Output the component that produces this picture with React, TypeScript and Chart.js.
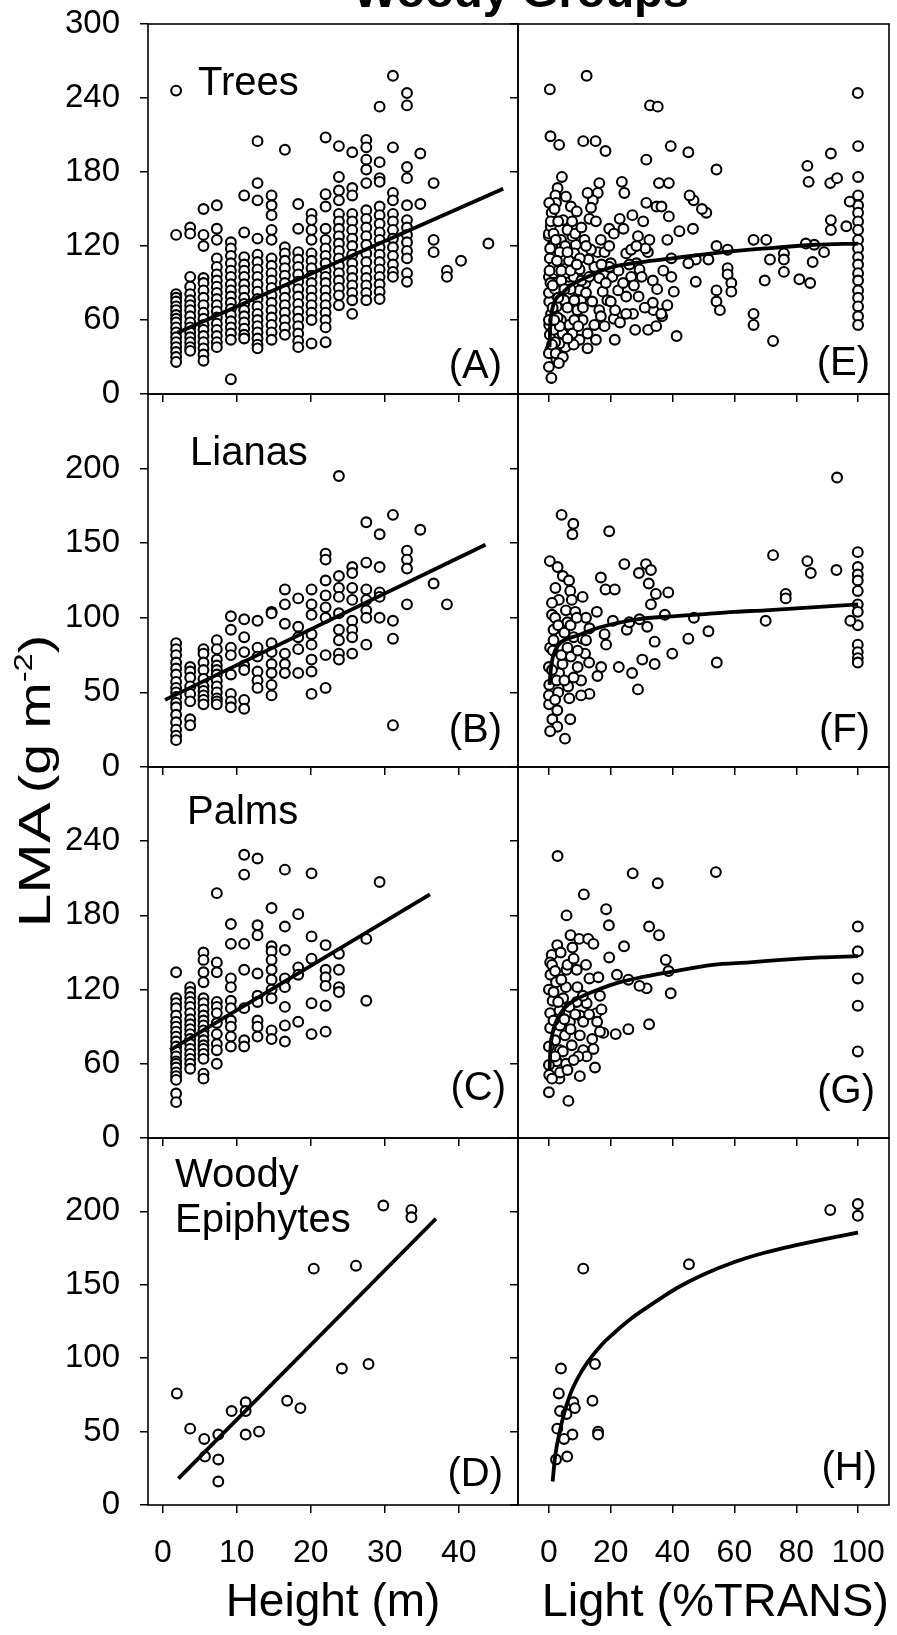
import React, { useEffect, useRef } from 'react';
import { Chart, registerables } from 'chart.js';

Chart.register(...registerables);

type Pt = [number, number];
type Col = [number, number[]];

const FONT = "'Liberation Sans', Arial, Helvetica, sans-serif";

// ---------- tick labels ----------
const heightTicks = [0, 10, 20, 30, 40];
const lightTicks = [0, 20, 40, 60, 80, 100];
const lmaTicks300 = [0, 60, 120, 180, 240, 300];
const lmaTicks240 = [0, 60, 120, 180, 240];
const lmaTicks200 = [0, 50, 100, 150, 200];

// ---------- texts ----------
const chartTitle = 'Woody Groups';
const yLabelMain = 'LMA';
const yLabelUnit = '(g m';
const yLabelExp = '-2';
const groupNames = ['Trees', 'Lianas', 'Palms', 'Woody\nEpiphytes'];
const heightTags = ['(A)', '(B)', '(C)', '(D)'];
const lightTags = ['(E)', '(F)', '(G)', '(H)'];
const heightTitle = 'Height (m)';
const lightTitle = 'Light (%TRANS)';

// ---------- LMA vs height (columns: height, LMA values) ----------
const treesByHeight: Col[] = [
  [1.8, [246, 129, 81, 78, 75, 71, 68, 64, 61, 58, 54, 50, 46, 42, 38, 34, 30, 26]],
  [3.7, [135, 130, 95, 87, 81, 76, 72, 68, 63, 58, 54, 50, 46, 42, 38, 35]],
  [5.5, [150, 129, 120, 94, 90, 84, 78, 72, 66, 61, 56, 52, 47, 42, 37, 32, 27]],
  [7.3, [153, 134, 125, 110, 103, 97, 92, 87, 82, 77, 72, 67, 62, 57, 52, 47, 42, 38]],
  [9.2, [123, 118, 112, 106, 100, 95, 89, 84, 79, 74, 69, 64, 59, 54, 49, 44, 12]],
  [11.0, [161, 131, 111, 105, 100, 95, 89, 84, 78, 73, 68, 63, 58, 53, 48, 45]],
  [12.8, [205, 171, 157, 126, 113, 107, 101, 95, 89, 83, 77, 71, 65, 60, 55, 50, 45, 40, 37]],
  [14.7, [161, 153, 145, 133, 125, 110, 104, 98, 92, 86, 80, 74, 68, 62, 56, 50, 44]],
  [16.5, [198, 119, 114, 108, 102, 96, 90, 84, 78, 72, 66, 60, 54, 48]],
  [18.3, [154, 134, 115, 109, 103, 97, 91, 85, 79, 73, 67, 61, 55, 49, 43, 38]],
  [20.1, [146, 141, 133, 125, 114, 108, 102, 96, 90, 84, 78, 72, 66, 60, 41]],
  [22.0, [208, 162, 152, 134, 125, 118, 112, 106, 100, 95, 90, 84, 78, 72, 66, 60, 54, 42]],
  [23.8, [201, 176, 165, 157, 146, 140, 134, 128, 122, 116, 110, 104, 98, 92, 86, 80, 72]],
  [25.6, [196, 167, 161, 146, 140, 133, 126, 120, 113, 106, 100, 94, 88, 82, 76, 65]],
  [27.5, [206, 200, 190, 182, 171, 149, 142, 135, 128, 121, 114, 107, 100, 94, 88, 82, 76]],
  [29.3, [233, 188, 175, 172, 152, 145, 138, 131, 125, 119, 113, 107, 101, 95, 89, 83, 77]],
  [31.1, [258, 200, 163, 157, 146, 140, 133, 126, 119, 112, 105, 99, 95]],
  [33.0, [244, 234, 184, 175, 153, 141, 135, 129, 123, 116, 110, 98, 91]],
  [34.8, [195, 154]],
  [36.6, [171, 125, 115]],
  [38.4, [100, 95]],
  [40.3, [108]],
  [44.0, [122]],
];

const lianasByHeight: Col[] = [
  [1.8, [83, 79, 75, 70, 66, 62, 57, 53, 50, 47, 43, 40, 35, 30, 25, 21, 18]],
  [3.7, [67, 64, 60, 54, 49, 44, 32, 28]],
  [5.5, [79, 76, 70, 65, 59, 54, 51, 48, 45, 42]],
  [7.3, [85, 79, 72, 68, 65, 62, 58, 54, 50, 46, 44, 42]],
  [9.2, [101, 92, 80, 75, 62, 49, 44, 40]],
  [11.0, [99, 87, 77, 68, 65, 45, 39]],
  [12.8, [98, 80, 74, 64, 58, 53]],
  [14.7, [104, 103, 83, 77, 69, 63, 55, 48]],
  [16.5, [119, 109, 96, 76, 69, 63]],
  [18.3, [113, 94, 87, 79, 63]],
  [20.1, [119, 109, 102, 89, 82, 72, 64, 49]],
  [22.0, [143, 139, 125, 115, 107, 100, 75, 53]],
  [23.8, [195, 128, 120, 114, 103, 92, 85, 76, 72]],
  [25.6, [134, 130, 120, 112, 98, 92, 87, 76]],
  [27.5, [164, 137, 119, 112, 105, 100, 82]],
  [29.3, [156, 134, 117, 114, 100]],
  [31.1, [169, 98, 86, 28]],
  [33.0, [145, 139, 133, 109]],
  [34.8, [159]],
  [36.6, [123]],
  [38.4, [109]],
];

const palmsByHeight: Col[] = [
  [1.8, [134, 113, 109, 105, 99, 94, 90, 86, 82, 78, 74, 70, 66, 62, 60, 57, 53, 50, 47, 36, 29]],
  [3.7, [122, 118, 114, 110, 106, 101, 96, 92, 88, 84, 80, 76, 72, 68, 64, 60, 56]],
  [5.5, [150, 144, 134, 126, 113, 109, 104, 99, 95, 91, 87, 83, 79, 75, 72, 68, 64, 52, 48]],
  [7.3, [198, 142, 134, 110, 106, 101, 93, 84, 76, 71, 60]],
  [9.2, [173, 157, 129, 122, 111, 105, 95, 90, 82, 74]],
  [11.0, [229, 213, 157, 136, 105, 79, 74]],
  [12.8, [226, 172, 164, 133, 115, 110, 95, 90, 82]],
  [14.7, [186, 155, 151, 144, 136, 128, 120, 113, 87, 80]],
  [16.5, [217, 171, 152, 129, 122, 106, 91, 78]],
  [18.3, [181, 138, 132, 94]],
  [20.1, [214, 163, 145, 109, 84]],
  [22.0, [156, 136, 130, 123, 107, 86]],
  [23.8, [149, 136, 122, 118]],
  [27.5, [161, 111]],
  [29.3, [207]],
];

const epiphytesByHeight: Pt[] = [
  [1.9, 76], [3.7, 52], [5.6, 45], [5.7, 33], [7.5, 48], [7.5, 31], [7.5, 16],
  [9.3, 64], [11.2, 70], [11.2, 64], [11.2, 48], [13.0, 50], [16.8, 71], [18.6, 66],
  [20.4, 161], [24.2, 93], [26.1, 163], [27.8, 96], [29.8, 204], [33.6, 201], [33.6, 196],
];

// ---------- fitted lines vs height ----------
const treesHeightFit: Pt[] = [[2, 49.7], [46, 166.5]];
const lianasHeightFit: Pt[] = [[0.3, 45], [43.6, 149]];
const palmsHeightFit: Pt[] = [[1, 71], [36.1, 197]];
const epiphytesHeightFit: Pt[] = [[2.1, 18], [36.9, 195]];

// ---------- LMA vs light ----------
const treesByLight: Pt[] = [
  [0.3, 247], [12.2, 258], [32.7, 234], [35.2, 233], [99.9, 244],
  [0.5, 209], [3.3, 202], [11.1, 205], [15.1, 205], [18.3, 197], [39.4, 201], [45.1, 196], [31.5, 190],
  [54.2, 182], [83.6, 185], [84, 172], [91.2, 195], [91, 171], [93.2, 175],
  [100, 201], [100, 176], [100, 161], [100, 153], [100, 147], [100, 140], [100, 133], [100, 125],
  [100, 118], [100, 111], [100, 105], [100, 98], [100, 92], [100, 84], [100, 78], [100, 71], [100, 63], [100, 56],
  [97.3, 156], [96.2, 136], [91.2, 141], [91.2, 133], [89, 115], [85.8, 121], [83.1, 122], [85.3, 107],
  [84.5, 90], [81, 93], [76, 114], [76, 109], [76, 99], [71.5, 109], [69.8, 92], [72.5, 43], [70.3, 125],
  [66.2, 125], [66.2, 65], [66.2, 56],
  [57.8, 117], [57.8, 102], [57.8, 97], [59, 90], [59, 83], [54.2, 120], [54.2, 84], [54.2, 75], [55.3, 68],
  [51.6, 109], [50.9, 147], [49.5, 150], [46.8, 157], [45.5, 161], [46.6, 134], [47.5, 109], [47.5, 91],
  [45.1, 106], [42.2, 132], [41.3, 47],
  [38.8, 171], [35.6, 171], [31.5, 155], [34.8, 152], [36.4, 152], [38.8, 144], [38.3, 125], [39.6, 110],
  [39.6, 95], [40.4, 83], [38.3, 72], [36.6, 63], [33.8, 68], [33.6, 92], [32.5, 125], [32, 115], [31.2, 118],
  [28.8, 128], [28.3, 106], [29, 79], [27.9, 52], [32.1, 52], [27.2, 65], [25, 79], [25, 65],
  [22.9, 142], [24.1, 134], [23.6, 172], [24.4, 163], [21.3, 44], [21, 61], [20.5, 95], [20, 106], [19.5, 134],
  [16.3, 171], [15.8, 163], [14.2, 157], [12.5, 163], [13.6, 151], [13.1, 142], [15.2, 140], [16.8, 125],
  [15.8, 115], [14.7, 103], [16.3, 94], [17.4, 83], [16.3, 68], [14.7, 56], [15.2, 44], [12.5, 37], [9.9, 44],
  [10.9, 60], [10.4, 76], [11.8, 90], [12.8, 109], [9.9, 101], [8.7, 121], [7.6, 128], [7.1, 152], [8.2, 114],
  [6.4, 95], [6.6, 79], [6.6, 56], [5.3, 38], [4.6, 141], [4.2, 176], [2.8, 167], [2.1, 161], [2.3, 155],
  [0.1, 155], [0, 128], [0, 130], [0.9, 147], [0.6, 136], [2.5, 120], [1.8, 111], [0.3, 110], [1.4, 103],
  [2.1, 90], [0.5, 82], [0.1, 75], [0.7, 65], [0.1, 56], [0.3, 48], [0.5, 36], [2.4, 28], [0.8, 13],
  [3.9, 60], [4.4, 49], [5, 76], [3.4, 87], [5.6, 98], [4.4, 109], [3.9, 125], [6, 133], [5.3, 120],
  [8.2, 76], [9.2, 68], [8.2, 60], [7.6, 49], [9.9, 84], [11.5, 125], [13.6, 117], [12.5, 49], [3.4, 41],
  [0, 33], [0, 22], [2, 42], [2.5, 71], [0, 60], [0, 95], [0, 82], [25, 114], [26.6, 117], [26.6, 95],
  [22.4, 84], [21.4, 68], [29.3, 101], [33.6, 74], [34.7, 55], [36.3, 65], [28.3, 120], [19.5, 103],
  [18.4, 90], [18.9, 76], [16.8, 63],
  [1, 120], [1.5, 98], [2, 85], [3, 78], [1.2, 70], [2.8, 62], [1.5, 52], [3, 100], [4, 92], [6, 70],
  [7, 85], [8, 95], [10, 110], [6.5, 108], [1, 40], [2.2, 33], [3.5, 55],
  [0.5, 90], [0.2, 100], [0.4, 118], [0.6, 140], [1.5, 130], [1.8, 150], [3, 140], [3.5, 115], [4, 100],
  [2.6, 108], [5, 85], [6, 115], [7, 100], [7.5, 140], [8.5, 130], [9, 105], [10.5, 92], [11, 70], [12, 82],
  [13, 95], [14, 75], [9.5, 55], [8, 40], [6, 45], [4.5, 30], [3.2, 25], [1.7, 60], [1.2, 88], [2.2, 125],
  [5.5, 160], [9, 148], [10.5, 135], [12, 120], [17, 105], [18, 115], [19.5, 120], [21, 130], [22.5, 100],
  [24, 90], [20, 75], [18, 55], [23, 58], [26, 105], [27.5, 88], [30, 95], [31, 70], [35, 85], [37, 100],
  [30.5, 140], [27, 145],
];

const lianasByLight: Pt[] = [
  [93.2, 194], [4.1, 169], [7.9, 163], [7.6, 156], [19.5, 158], [0.3, 138], [2.8, 134], [24.4, 136],
  [29.1, 130], [31.4, 136], [33, 132], [32.3, 123], [16.8, 127], [18.3, 119], [21.3, 119], [34.6, 116],
  [38.6, 117], [33, 109], [72.5, 142], [83.6, 138], [84.7, 130], [93, 132],
  [99.9, 144], [99.9, 134], [99.9, 129], [99.9, 125], [99.9, 118], [99.9, 109], [99.9, 104], [99.9, 95],
  [99.9, 82], [99.9, 77], [99.9, 73], [99.9, 70],
  [97.5, 98], [76.6, 116], [76.6, 113], [70.1, 98], [46.9, 100], [37.5, 102], [51.6, 91], [45.1, 86],
  [54.3, 70], [39.9, 76], [34.2, 84], [34.2, 69], [28.8, 52], [26.9, 63], [30.2, 72], [22.6, 67],
  [25.2, 92], [29.3, 99], [31.8, 94], [26, 97], [20.7, 98], [18, 89], [18.5, 82], [15.5, 104], [12, 100],
  [13.1, 93], [10.9, 114], [6.9, 118], [2.1, 120], [3.2, 112], [1, 102], [1.5, 92], [0.4, 80], [1.3, 78],
  [3.6, 87], [6, 97], [5.5, 105], [7.4, 112], [8.5, 104], [8, 87], [10.9, 86], [11.7, 76], [7.1, 74],
  [9.3, 67], [16.9, 67], [15.7, 61], [13.1, 49], [10.4, 48], [6.6, 46], [6.2, 54], [3.3, 63], [0.1, 55],
  [0, 67], [4.4, 69], [2.5, 58], [0.05, 42], [1.1, 32], [2.7, 27], [0.4, 24], [5.2, 19], [6.9, 32],
  [2.7, 38], [0, 48], [10.4, 58], [9.3, 78],
  [1, 110], [2, 100], [3, 95], [1.5, 85], [4, 75], [5, 90], [6, 80], [3, 50], [2, 45], [5, 58], [8, 60],
  [7, 95], [9, 100], [12, 85], [13, 70], [4.5, 128], [6.5, 125], [1, 65],
];

const palmsByLight: Pt[] = [
  [2.8, 228], [27.1, 214], [35.2, 206], [54, 215], [11.3, 197], [5.7, 180], [18.5, 185], [19.4, 172],
  [32.4, 171], [35.6, 164], [99.9, 171], [99.9, 151], [99.9, 129], [99.9, 107], [99.9, 70],
  [24.3, 155], [19.5, 146], [37.8, 144], [38.7, 135], [39.4, 117], [31.6, 121], [29.3, 123], [25.7, 128],
  [22, 132], [32.4, 92], [25.7, 88], [21.6, 84], [17.6, 85], [14.9, 57], [10, 50], [6.3, 30], [0, 37],
  [7, 164], [9.8, 161], [12.7, 161], [14.4, 157], [2.7, 156], [0.9, 148], [0.4, 142], [3.8, 150],
  [7.6, 154], [9, 136], [5.7, 136], [0.5, 132], [2.3, 126], [5.5, 122], [9.2, 122], [13.1, 129],
  [16.5, 115], [12.2, 109], [9, 110], [4.6, 113], [0, 120], [1.2, 111], [0.4, 101], [3.4, 103], [6.6, 106],
  [10, 99], [15.4, 101], [17, 104], [3.6, 91], [0.4, 89], [6.8, 94], [11.1, 94], [15.6, 94], [16.5, 86],
  [10, 83], [5.2, 83], [2, 79], [0, 74], [3.6, 71], [7.4, 75], [11.1, 71], [14.4, 72], [12.2, 66],
  [9.5, 66], [5.5, 60], [2.5, 62], [0, 59], [0.1, 51], [3.4, 48], [1, 48], [3.6, 53],
  [1, 140], [2, 135], [4, 128], [6, 140], [8, 145], [1.5, 118], [3, 110], [5, 96], [7, 88], [8.5, 100],
  [11, 115], [13, 100], [14, 80], [1.5, 95], [4.5, 70], [6, 55], [8, 63], [2, 66], [12, 140], [16, 130],
];

const epiphytesByLight: Pt[] = [
  [91, 201], [99.9, 205], [99.9, 197], [11.1, 161], [45.3, 164], [3.9, 93], [14.9, 96], [3.2, 76],
  [14.1, 71], [7.9, 70], [8.4, 66], [3.6, 64], [5.7, 62], [2.7, 52], [7.6, 48], [15.9, 50], [15.9, 48],
  [4.9, 45], [2.3, 31], [5.9, 33],
];

// ---------- fitted curves vs light ----------
const treesLightFit: Pt[] = [
  [0.2, 38], [0.5, 58], [1, 68], [2, 76], [4.4, 82], [7, 88], [10, 92], [15, 98], [20.6, 103],
  [30, 107], [40, 110], [53, 114], [70, 118], [86, 121], [100, 122],
];
const lianasLightFit: Pt[] = [
  [0.2, 55], [0.6, 65], [1.2, 73], [2, 78], [3.6, 83], [6, 86], [9, 88], [14, 92], [19, 95],
  [28.5, 99], [40, 101], [47, 102], [60, 104], [70, 105], [85, 107], [100, 109],
];
const palmsLightFit: Pt[] = [
  [0.2, 55], [0.5, 72], [1.2, 85], [2.5, 95], [5, 105], [8, 111], [12, 116], [15.4, 119.5], [23, 126],
  [30, 130], [38.7, 134], [53, 140], [65, 142], [75, 144], [88, 146], [100, 147],
];
const epiphytesLightFit: Pt[] = [
  [1.2, 16], [2, 33], [3.5, 50], [5, 63], [7, 76], [10, 89], [13.3, 99.5], [17, 109], [21, 117],
  [26, 126], [32, 135], [37, 142], [42, 148.5], [50, 157], [60, 165.5], [70, 172], [80, 177], [90, 181.5], [100, 185.5],
];

// ---------- layout ----------
const colLeft = [148, 518];
const colRight = [518, 889];
const rowTop = [24, 394, 767, 1138];
const rowBottom = [394, 767, 1138, 1505];

const flattenCols = (cols: Col[]): Pt[] =>
  cols.flatMap(([x, ys]) => ys.map((y) => [x, y] as Pt));

type PanelSpec = {
  row: number;
  col: number;
  points: Pt[];
  fit: Pt[];
  curved: boolean;
  xTicks: number[];
  xMin: number;
  xMax: number;
  yTicks: number[];
  yMax: number;
  name: string;
  nameDx: number;
  nameDy: number;
  tag: string;
  tagDx: number;
  tagDy: number;
  xTitle: string;
  xTitleAlign: 'center' | 'end';
  xTitleSize: number;
};

const panelDecor = {
  id: 'panelDecor',
  afterDraw(chart: any, _args: any, opts: any) {
    const { ctx, chartArea } = chart;
    ctx.save();
    ctx.strokeStyle = '#000';
    ctx.lineWidth = 1.6;
    ctx.strokeRect(chartArea.left, chartArea.top, chartArea.right - chartArea.left, chartArea.bottom - chartArea.top);
    ctx.fillStyle = '#000';
    ctx.font = `40px ${FONT}`;
    ctx.textBaseline = 'alphabetic';
    if (opts.name) {
      ctx.textAlign = 'left';
      String(opts.name)
        .split('\n')
        .forEach((line: string, i: number) => {
          ctx.fillText(line, chartArea.left + opts.nameDx, chartArea.top + opts.nameDy + i * 45);
        });
    }
    if (opts.tag) {
      ctx.textAlign = 'right';
      ctx.fillText(opts.tag, chartArea.right - opts.tagDx, chartArea.bottom - opts.tagDy);
    }
    ctx.restore();
  },
};

function Panel({ spec }: { spec: PanelSpec }) {
  const ref = useRef<HTMLCanvasElement>(null);
  const L = spec.col === 0 ? 148 : 30;
  const R = 8;
  const T = 24;
  const B = spec.row === 3 ? 1635 - 1505 : 12;
  const pw = colRight[spec.col] - colLeft[spec.col];
  const ph = rowBottom[spec.row] - rowTop[spec.row];
  const w = pw + L + R;
  const h = ph + T + B;
  const left = colLeft[spec.col] - L;
  const top = rowTop[spec.row] - T;

  useEffect(() => {
    if (!ref.current) return;
    const showX = spec.row === 3;
    const showY = spec.col === 0;
    const zeroPad = (s: any) => {
      s.paddingLeft = 0;
      s.paddingRight = 0;
      s.paddingTop = 0;
      s.paddingBottom = 0;
    };
    const chart = new Chart(ref.current, {
      type: 'scatter',
      data: {
        datasets: [
          {
            data: spec.fit.map(([x, y]) => ({ x, y })),
            showLine: true,
            borderColor: '#000',
            borderWidth: 3.8,
            pointRadius: 0,
            tension: spec.curved ? 0.4 : 0,
            cubicInterpolationMode: spec.curved ? 'monotone' : 'default',
            order: 0,
          } as any,
          {
            data: spec.points.map(([x, y]) => ({ x, y })),
            pointRadius: 4.9,
            pointBorderWidth: 2.1,
            pointBorderColor: '#000',
            pointBackgroundColor: '#fff',
            pointStyle: 'circle',
            order: 1,
          } as any,
        ],
      },
      options: {
        responsive: false,
        animation: false,
        devicePixelRatio: 1,
        events: [],
        layout: { padding: { left: 0, right: R, top: T, bottom: 0 } },
        plugins: {
          legend: { display: false },
          tooltip: { enabled: false },
          panelDecor: {
            name: spec.name,
            nameDx: spec.nameDx,
            nameDy: spec.nameDy,
            tag: spec.tag,
            tagDx: spec.tagDx,
            tagDy: spec.tagDy,
          },
        } as any,
        scales: {
          x: {
            type: 'linear',
            min: spec.xMin,
            max: spec.xMax,
            afterBuildTicks: (s: any) => {
              s.ticks = spec.xTicks.map((v) => ({ value: v }));
            },
            afterFit: (s: any) => {
              s.height = B;
              zeroPad(s);
            },
            border: { display: false },
            grid: { display: true, drawOnChartArea: false, drawTicks: true, tickLength: 8, color: '#000', lineWidth: 1.5 },
            ticks: {
              autoSkip: false,
              maxRotation: 0,
              padding: 21,
              color: '#000',
              font: { family: FONT, size: 32 },
              callback: (v: any) => (showX ? String(v) : ''),
            },
            title: {
              display: showX,
              text: spec.xTitle,
              align: spec.xTitleAlign,
              color: '#000',
              font: { family: FONT, size: spec.xTitleSize },
              padding: { top: 0, bottom: 4 },
            },
          },
          y: {
            type: 'linear',
            min: 0,
            max: spec.yMax,
            afterBuildTicks: (s: any) => {
              s.ticks = spec.yTicks.map((v) => ({ value: v }));
            },
            afterFit: (s: any) => {
              s.width = L;
              zeroPad(s);
            },
            border: { display: false },
            grid: { display: true, drawOnChartArea: false, drawTicks: true, tickLength: 8, color: '#000', lineWidth: 1.5 },
            ticks: {
              autoSkip: false,
              padding: 20,
              color: '#000',
              font: { family: FONT, size: 33 },
              callback: (v: any) => (showY ? String(v) : ''),
            },
          },
        },
      },
      plugins: [panelDecor],
    } as any);
    return () => chart.destroy();
  }, []);

  return (
    <canvas
      ref={ref}
      width={w}
      height={h}
      style={{ position: 'absolute', left, top, width: w, height: h }}
    />
  );
}

const rotatedLabel = (centerY: number, stretch: number): React.CSSProperties => ({
  position: 'absolute',
  left: 35,
  top: centerY,
  transform: `translate(-50%, -50%) rotate(-90deg) scaleX(${stretch})`,
  fontFamily: FONT,
  fontSize: 44,
  lineHeight: '44px',
  whiteSpace: 'nowrap',
  color: '#000',
});

export default function App() {
  const heightPoints = [
    flattenCols(treesByHeight),
    flattenCols(lianasByHeight),
    flattenCols(palmsByHeight),
    epiphytesByHeight,
  ];
  const heightFits = [treesHeightFit, lianasHeightFit, palmsHeightFit, epiphytesHeightFit];
  const lightPoints = [treesByLight, lianasByLight, palmsByLight, epiphytesByLight];
  const lightFits = [treesLightFit, lianasLightFit, palmsLightFit, epiphytesLightFit];
  const yTickSets = [lmaTicks300, lmaTicks200, lmaTicks240, lmaTicks200];
  const yMaxes = [300, 250, 300, 250];
  const nameOffsets: Pt[] = [[50, 71], [42, 71], [39, 57], [27, 49]];
  const heightTagOffsets: Pt[] = [[16, 16], [16, 25], [12, 38], [15, 19]];
  const lightTagOffsets: Pt[] = [[19, 19], [19, 25], [14, 35], [12, 25]];

  const specs: PanelSpec[] = [];
  for (let r = 0; r < 4; r++) {
    specs.push({
      row: r,
      col: 0,
      points: heightPoints[r],
      fit: heightFits[r],
      curved: false,
      xTicks: heightTicks,
      xMin: -2,
      xMax: 48,
      yTicks: yTickSets[r],
      yMax: yMaxes[r],
      name: groupNames[r],
      nameDx: nameOffsets[r][0],
      nameDy: nameOffsets[r][1],
      tag: heightTags[r],
      tagDx: heightTagOffsets[r][0],
      tagDy: heightTagOffsets[r][1],
      xTitle: heightTitle,
      xTitleAlign: 'center',
      xTitleSize: 46,
    });
    specs.push({
      row: r,
      col: 1,
      points: lightPoints[r],
      fit: lightFits[r],
      curved: true,
      xTicks: lightTicks,
      xMin: -10,
      xMax: 110,
      yTicks: yTickSets[r],
      yMax: yMaxes[r],
      name: '',
      nameDx: 0,
      nameDy: 0,
      tag: lightTags[r],
      tagDx: lightTagOffsets[r][0],
      tagDy: lightTagOffsets[r][1],
      xTitle: lightTitle,
      xTitleAlign: 'end',
      xTitleSize: 47,
    });
  }

  return (
    <div style={{ position: 'absolute', left: 0, top: 0, width: 897, height: 1635, overflow: 'hidden', background: '#fff' }}>
      {specs.map((s) => (
        <Panel key={`${s.row}-${s.col}`} spec={s} />
      ))}
      <div
        style={{
          position: 'absolute',
          left: 521,
          top: -33,
          transform: 'translateX(-50%)',
          fontFamily: FONT,
          fontWeight: 'bold',
          fontSize: 47,
          lineHeight: '47px',
          whiteSpace: 'nowrap',
          color: '#000',
        }}
      >
        {chartTitle}
      </div>
      <div style={rotatedLabel(865, 1.38)}>{yLabelMain}</div>
      <div style={rotatedLabel(714, 1.26)}>
        {yLabelUnit}
        <span style={{ fontSize: 26, position: 'relative', top: -18, lineHeight: 0 }}>{yLabelExp}</span>)
      </div>
    </div>
  );
}
